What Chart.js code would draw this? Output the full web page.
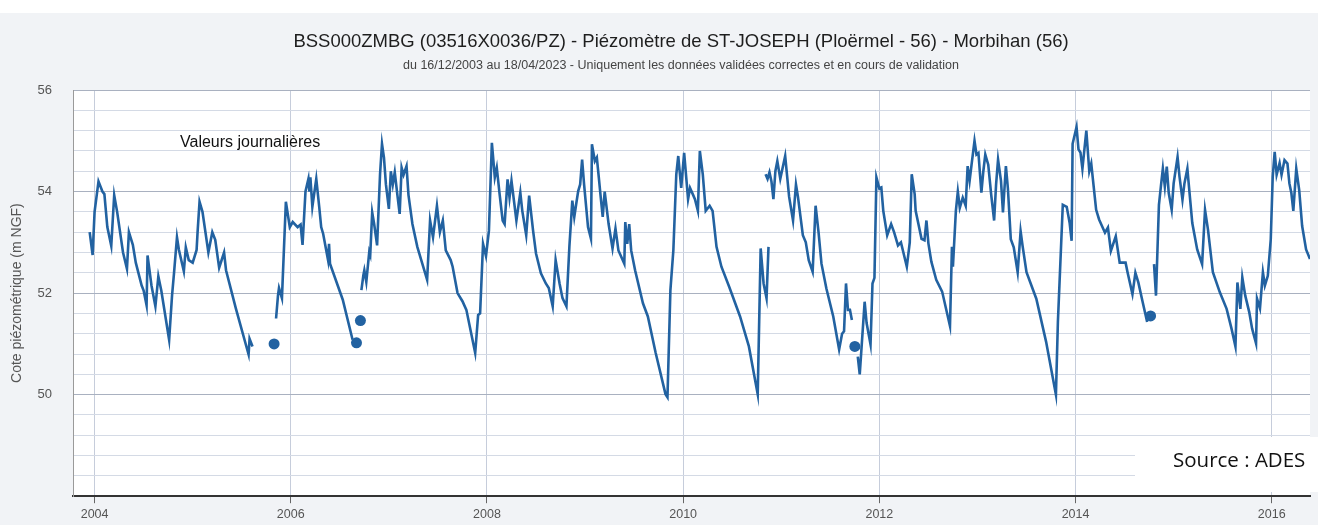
<!DOCTYPE html>
<html><head><meta charset="utf-8">
<script src="https://cdn.jsdelivr.net/npm/chart.js@4.4.1/dist/chart.umd.min.js"></script>
<style>html,body{margin:0;padding:0;background:#fff;overflow:hidden}#wrap{width:1318px;height:525px;position:relative}</style>
</head><body><div id="wrap"><canvas id="c" width="1318" height="525"></canvas></div>
<script>
const titleText = 'BSS000ZMBG (03516X0036/PZ) - Piézomètre de ST-JOSEPH (Ploërmel - 56) - Morbihan (56)';
const subtitleText = 'du 16/12/2003 au 18/04/2023 - Uniquement les données validées correctes et en cours de validation';
const seriesLabel = 'Valeurs journalières';
const yAxisTitle = 'Cote piézométrique (m NGF)';
const sourceText = 'Source : ADES';

const yearTicks = [2004, 2006, 2008, 2010, 2012, 2014, 2016];
const levelLabels = [50, 52, 54, 56];
const gridLevels = [48, 48.4, 48.8, 49.2, 49.6, 50, 50.4, 50.8, 51.2, 51.6, 52, 52.4, 52.8, 53.2, 53.6, 54, 54.4, 54.8, 55.2, 55.6, 56];

const dates = [
2003.95,2003.98,2004.00,2004.04,2004.08,2004.10,2004.13,2004.17,2004.20,2004.23,2004.29,2004.33,2004.35,2004.39,2004.42,2004.48,2004.50,2004.53,2004.54,2004.58,2004.62,2004.65,2004.68,2004.76,2004.79,2004.81,2004.84,2004.86,2004.91,2004.93,2004.96,2005.00,2005.04,2005.05,2005.07,2005.10,2005.16,2005.20,2005.23,2005.27,2005.32,2005.34,2005.44,2005.57,2005.58,2005.61,
2005.72,2005.83,2005.84,
2005.85,2005.87,2005.88,2005.91,2005.95,2005.99,2006.02,2006.07,2006.10,2006.12,2006.15,2006.18,2006.19,2006.20,2006.22,2006.26,2006.29,2006.31,2006.33,2006.38,2006.39,2006.40,2006.53,2006.63,
2006.65,2006.67,2006.69,2006.71,2006.715,
2006.72,2006.74,2006.75,2006.77,2006.80,2006.81,2006.83,2006.85,2006.88,2006.91,2006.93,2006.95,2006.97,2007.00,2007.02,2007.04,2007.06,2007.09,2007.11,2007.13,2007.15,2007.18,2007.20,2007.24,2007.29,2007.35,2007.39,2007.42,2007.45,2007.49,2007.52,2007.55,2007.58,2007.63,2007.65,2007.70,2007.75,2007.79,2007.88,2007.91,2007.93,2007.96,2007.99,
2008.02,2008.05,2008.08,2008.10,2008.13,2008.16,2008.18,2008.21,2008.23,2008.25,2008.30,2008.34,2008.36,2008.40,2008.43,2008.47,2008.50,2008.55,2008.60,2008.63,2008.67,2008.70,2008.74,2008.77,2008.81,2008.84,2008.87,2008.89,2008.91,2008.93,2008.95,2008.97,2008.99,
2009.03,2009.06,2009.07,2009.10,2009.12,2009.14,2009.16,2009.18,2009.20,2009.24,2009.28,2009.31,2009.34,2009.40,2009.41,2009.43,2009.45,2009.47,2009.51,2009.59,2009.64,2009.72,2009.82,2009.84,2009.87,2009.90,2009.93,2009.95,2009.98,
2010.01,2010.05,2010.07,2010.10,2010.12,2010.15,2010.17,2010.20,2010.23,2010.27,2010.30,2010.34,2010.39,2010.47,2010.58,2010.67,2010.76,2010.79,2010.82,2010.85,2010.87,
2010.875,
2010.84,2010.86,2010.88,2010.90,2010.92,2010.94,2010.96,2010.99,2011.04,2011.08,2011.12,2011.15,2011.17,2011.22,2011.25,2011.28,2011.32,2011.35,2011.38,2011.41,2011.46,2011.53,2011.59,2011.62,2011.64,2011.66,2011.68,2011.70,2011.72,
2011.735,2011.75,2011.765,
2011.78,2011.80,2011.85,2011.87,2011.91,2011.93,2011.95,2011.97,2012.00,2012.02,2012.04,2012.08,2012.12,2012.15,2012.19,2012.22,2012.24,2012.28,2012.31,2012.33,2012.36,2012.37,2012.43,2012.46,2012.48,2012.50,2012.53,2012.58,2012.64,2012.72,2012.74,2012.75,2012.78,2012.80,2012.82,2012.85,2012.88,2012.90,2012.92,2012.94,2012.97,2012.99,
2013.01,2013.04,2013.06,2013.08,2013.11,2013.14,2013.17,2013.19,2013.21,2013.24,2013.26,2013.29,2013.31,2013.34,2013.37,2013.41,2013.44,2013.46,2013.50,2013.60,2013.70,2013.80,2013.82,2013.87,2013.91,2013.94,2013.96,2013.97,
2014.01,2014.03,2014.05,2014.07,2014.11,2014.14,2014.16,2014.21,2014.24,2014.30,2014.33,2014.36,2014.41,2014.45,2014.51,2014.53,2014.58,2014.61,2014.64,2014.68,2014.73,
2014.745,2014.765,2014.785,
2014.80,2014.82,2014.85,2014.87,2014.89,2014.91,2014.93,2014.95,2014.98,2015.00,2015.04,2015.06,2015.09,2015.11,2015.14,2015.15,2015.19,2015.24,2015.29,2015.32,2015.35,2015.40,2015.47,2015.54,2015.59,2015.63,2015.65,2015.68,2015.70,2015.73,2015.77,2015.80,2015.84,2015.85,2015.88,2015.91,2015.93,2015.96,2015.99,
2016.01,2016.03,2016.05,2016.08,2016.10,2016.13,2016.16,2016.18,2016.20,2016.22,2016.25,2016.28,2016.31,2016.35,2016.39
];

const levels = [
53.2,52.75,53.6,54.2,54.0,53.95,53.3,52.93,53.93,53.6,52.8,52.48,53.2,52.95,52.6,52.15,52.05,51.76,52.74,52.15,51.74,52.33,52.05,51.08,51.96,52.4,53.1,52.85,52.43,52.9,52.65,52.6,52.85,53.2,53.8,53.6,52.8,53.2,53.05,52.5,52.8,52.45,51.7,50.79,51.1,50.95,
null,51.0,null,
51.5,51.96,52.1,51.9,53.8,53.3,53.4,53.3,53.35,52.95,54.0,54.25,54.0,54.28,53.7,54.25,53.7,53.3,53.17,52.65,52.97,52.58,51.87,51.08,
null,51.02,null,51.46,null,
52.06,52.35,52.45,52.22,52.81,52.75,53.59,53.36,52.94,54.34,54.94,54.67,54.14,53.66,54.4,54.14,54.38,53.88,53.56,54.47,54.33,54.5,53.93,53.36,52.91,52.52,52.26,53.43,53.1,53.72,53.2,53.43,52.84,52.65,52.52,52.0,51.84,51.67,50.82,51.57,51.6,52.97,52.73,
53.23,54.96,54.28,54.47,53.93,53.43,53.36,54.24,53.88,54.21,53.43,53.98,53.62,53.14,53.92,53.23,52.78,52.39,52.19,52.1,51.74,52.65,52.19,51.9,51.74,52.91,53.82,53.5,53.76,54.01,54.14,54.63,54.14,
53.3,53.07,54.93,54.6,54.67,54.28,53.88,53.5,54.0,53.36,52.88,53.27,52.84,52.58,53.4,52.97,53.36,52.84,52.45,51.8,51.54,50.82,50.01,49.95,52.06,52.84,54.34,54.7,54.07,
54.76,53.85,54.07,53.94,53.85,53.62,54.8,54.34,53.62,53.72,53.62,52.91,52.52,52.12,51.54,50.95,50.01,52.88,52.19,51.9,52.91,
null,
54.34,54.25,54.38,54.2,53.85,54.4,54.6,54.25,54.7,53.9,53.43,54.14,53.9,53.14,53.0,52.65,52.42,53.72,53.2,52.58,52.09,51.54,50.89,51.2,51.25,52.19,51.67,51.67,51.47,
null,50.95,null,
50.75,50.4,51.83,51.41,50.99,52.19,52.3,54.28,54.06,54.08,53.62,53.14,53.36,53.2,52.94,53.0,52.84,52.52,53.0,54.34,53.95,53.62,53.07,53.04,53.43,52.98,52.62,52.26,52.03,51.35,52.91,52.52,53.62,54.0,53.68,53.88,53.72,54.5,54.21,54.53,55.0,54.73,
54.76,53.98,54.4,54.73,54.53,53.94,53.43,54.14,54.63,54.21,53.59,54.5,54.07,53.06,52.9,52.41,53.22,52.93,52.41,51.89,51.04,50.0,51.43,53.74,53.7,53.38,53.03,54.94,
55.27,54.83,54.77,54.45,55.2,54.4,54.55,53.64,53.45,53.19,53.29,52.83,53.12,52.6,52.6,52.41,51.98,52.4,52.21,51.86,51.43,
null,51.55,null,
52.57,51.95,53.74,54.1,54.45,54.1,54.49,53.97,53.64,54.16,54.68,54.29,53.84,54.16,54.45,54.23,53.38,52.86,52.57,53.64,53.25,52.41,52.02,51.69,51.3,50.95,52.21,51.69,52.31,51.95,51.63,51.3,51.01,51.89,51.7,52.41,52.15,52.34,53.06,
54.29,54.78,54.33,54.56,54.33,54.62,54.55,54.16,53.97,53.62,54.45,54.03,53.32,52.86,52.67
];

const lineColor = '#2262a1';
const points = dates.map((x, i) => ({x: x, y: levels[i]}));

function isIsolated(i) {
  if (levels[i] == null) return false;
  const prev = levels[i - 1], next = levels[i + 1];
  return prev == null && next == null;
}

const backgroundPlugin = {
  id: 'bg',
  beforeDraw(chart) {
    const ctx = chart.ctx, a = chart.chartArea;
    ctx.save();
    ctx.fillStyle = '#f1f3f6';
    ctx.fillRect(0, 0, chart.width, chart.height);
    ctx.fillStyle = '#ffffff';
    ctx.fillRect(0, 0, chart.width, 13);
    ctx.fillRect(a.left, a.top, a.right - a.left, a.bottom - a.top);
    ctx.restore();
  }
};

const overlayPlugin = {
  id: 'overlay',
  afterDraw(chart) {
    const ctx = chart.ctx;
    ctx.save();
    ctx.fillStyle = '#1e1e1e';
    ctx.textAlign = 'center';
    ctx.textBaseline = 'middle';
    ctx.font = '18.5px "Liberation Sans", Arial, sans-serif';
    ctx.fillText(titleText, 681, 42);
    ctx.fillStyle = '#444';
    ctx.font = '12.5px "Liberation Sans", Arial, sans-serif';
    ctx.fillText(subtitleText, 681, 66);
    ctx.textAlign = 'left';
    ctx.fillStyle = '#111';
    ctx.font = '16px "Liberation Sans", Arial, sans-serif';
    ctx.fillText(seriesLabel, 180, 143);
    ctx.fillStyle = '#ffffff';
    ctx.fillRect(1135, 437, 183, 55);
    ctx.fillStyle = '#111';
    ctx.textBaseline = 'alphabetic';
    ctx.font = '20.5px "Open Sans", Lato, sans-serif';
    ctx.fillText(sourceText, 1173, 467);
    ctx.restore();
  }
};

new Chart(document.getElementById('c'), {
  type: 'line',
  data: {
    datasets: [{
      label: seriesLabel,
      data: points,
      borderColor: lineColor,
      backgroundColor: lineColor,
      borderWidth: 2.6,
      tension: 0,
      spanGaps: false,
      pointRadius: ctx => isIsolated(ctx.dataIndex) ? 5.5 : 0,
      pointBackgroundColor: lineColor,
      pointBorderWidth: 0,
      pointHoverRadius: 0
    }]
  },
  options: {
    responsive: false,
    animation: false,
    devicePixelRatio: 1,
    layout: {padding: {top: 90, right: 8, bottom: 0, left: 0}},
    plugins: {legend: {display: false}, tooltip: {enabled: false}, title: {display: false}},
    scales: {
      x: {
        type: 'linear',
        min: 2003.78,
        max: 2016.39,
        afterBuildTicks: s => { s.ticks = yearTicks.map(v => ({value: v})); },
        afterFit: s => { s.height = 28; },
        grid: {color: '#c6cddb', lineWidth: 1, drawTicks: true, tickLength: 7, tickColor: '#666'},
        border: {color: '#333', width: 2},
        ticks: {padding: 4, color: '#555', autoSkip: false, maxRotation: 0,
          font: {family: '"Liberation Sans", Arial, sans-serif', size: 12.5},
          callback: v => String(v)}
      },
      y: {
        min: 48,
        max: 56,
        afterBuildTicks: s => { s.ticks = gridLevels.map(v => ({value: v})); },
        afterFit: s => { s.width = 73; },
        grid: {color: ctx => levelLabels.includes(ctx.tick && ctx.tick.value) ? '#a9b1c0' : '#d4dae5', lineWidth: 1, drawTicks: false},
        border: {color: '#9a9a9a', width: 1},
        ticks: {padding: 21, color: '#555', autoSkip: false,
          font: {family: '"Liberation Sans", Arial, sans-serif', size: 13},
          callback: v => levelLabels.includes(v) ? String(v) : ''},
        title: {display: true, text: yAxisTitle, color: '#555', padding: {top: 9, bottom: 0},
          font: {family: '"Liberation Sans", Arial, sans-serif', size: 14}}
      }
    }
  },
  plugins: [backgroundPlugin, overlayPlugin]
});
</script></body></html>
